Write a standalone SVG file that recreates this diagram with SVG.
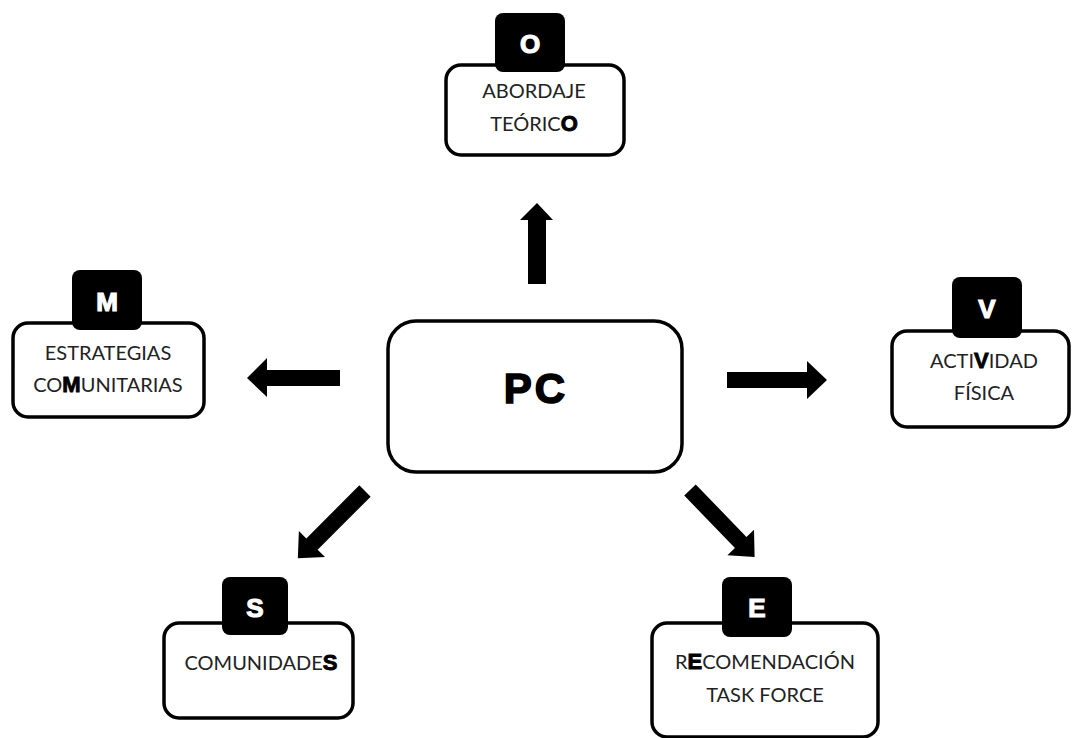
<svg xmlns="http://www.w3.org/2000/svg" width="1072" height="738" viewBox="0 0 1072 738">
<style>
.box{fill:#fff;stroke:#000;stroke-width:3.5}
.tab{fill:#000}
.tl{font-family:"Liberation Sans",Arial,sans-serif;font-weight:bold;font-size:26px;fill:#fff;stroke:#fff;stroke-width:1.2;text-anchor:middle}
.t{font-family:Lato,"Liberation Sans",sans-serif;font-size:20px;fill:#222;text-anchor:middle}
.b{font-family:"Liberation Sans",Arial,sans-serif;font-weight:bold;font-size:22px;fill:#000;stroke:#000;stroke-width:0.9}
.pc{font-family:"Liberation Sans",Arial,sans-serif;font-weight:bold;font-size:42px;fill:#000;stroke:#000;stroke-width:1.6;text-anchor:middle;letter-spacing:3px}
.arr{fill:#000}
</style>
<rect width="1072" height="738" fill="#fff"/>
<g id="connectors">
<polygon class="arr" points="528,284 546,284 546,220 553,220 537,203 520,220 528,220"/>
<polygon class="arr" points="340,370 267,370 267,358 247,378 267,397 267,386 340,386"/>
<polygon class="arr" points="727,372 807,372 807,361 827,380 807,399 807,388 727,388"/>
<polygon class="arr" transform="translate(365,491) rotate(135)" points="0,-8 75,-8 75,-18.5 95,0 75,18.5 75,8 0,8"/>
<polygon class="arr" transform="translate(690,490) rotate(46)" points="0,-8 73,-8 73,-18.5 93,0 73,18.5 73,8 0,8"/>
</g>
<g id="node-pc">
<rect class="box" x="388" y="321" width="294" height="151" rx="28" stroke-width="4"/>
<text class="pc" x="536" y="403">PC</text>
</g>
<g id="node-o">
<rect class="box" x="446" y="65" width="178" height="90" rx="15"/>
<rect class="tab" x="495" y="13" width="70" height="59" rx="8"/>
<text class="tl" x="530" y="53">O</text>
<text class="t" x="534" y="98">ABORDAJE</text>
<text class="t" x="534" y="131">TEÓRIC<tspan class="b">O</tspan></text>
</g>
<g id="node-m">
<rect class="box" x="13" y="323" width="191" height="94" rx="15"/>
<rect class="tab" x="72" y="270" width="70" height="60" rx="8"/>
<text class="tl" x="107" y="311">M</text>
<text class="t" x="108" y="360">ESTRATEGIAS</text>
<text class="t" x="108" y="392">CO<tspan class="b">M</tspan>UNITARIAS</text>
</g>
<g id="node-v">
<rect class="box" x="892" y="331" width="177" height="96" rx="15"/>
<rect class="tab" x="952" y="277" width="70" height="61" rx="8"/>
<text class="tl" x="987" y="318">V</text>
<text class="t" x="984" y="368">ACTI<tspan class="b">V</tspan>IDAD</text>
<text class="t" x="984" y="400">FÍSICA</text>
</g>
<g id="node-s">
<rect class="box" x="164" y="623" width="189" height="95" rx="15"/>
<rect class="tab" x="222" y="577" width="66" height="58" rx="8"/>
<text class="tl" x="255" y="617">S</text>
<text class="t" x="261" y="670">COMUNIDADE<tspan class="b">S</tspan></text>
</g>
<g id="node-e">
<rect class="box" x="652" y="623" width="226" height="114" rx="15"/>
<rect class="tab" x="722" y="577" width="70" height="60" rx="8"/>
<text class="tl" x="757" y="617">E</text>
<text class="t" x="765" y="669">R<tspan class="b">E</tspan>COMENDACIÓN</text>
<text class="t" x="765" y="702">TASK FORCE</text>
</g>
</svg>
